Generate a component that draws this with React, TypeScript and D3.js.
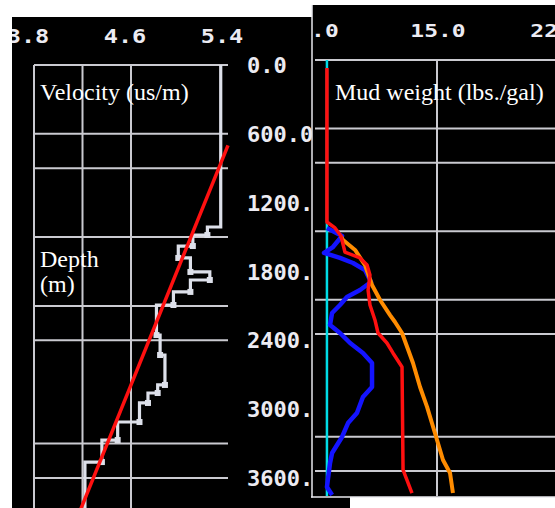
import React from 'react';
import * as d3 from 'd3';

// ---------- data ----------
const velTicks = [3.8, 4.6, 5.4];
const velGrid = [3.8, 4.2, 4.6];
const depthTicks = [0, 600, 1200, 1800, 2400, 3000, 3600];
const depthGrid = [0, 600, 900, 1500, 2100, 2400, 3300, 3600];

// velocity step log: top depth of each step and value
const velStepDepth = [0, 1412, 1482, 1578, 1682, 1804, 1874, 1978, 2092, 2354, 2528, 2789, 2859, 2946, 3112, 3269, 3461];
const velStepValue = [5.34, 5.23, 5.11, 4.99, 5.09, 5.25, 5.09, 4.95, 4.81, 4.84, 4.88, 4.82, 4.74, 4.67, 4.49, 4.36, 4.22];
const velLogBottom = 3900;

// red trend line (velocity)
const trendDepth = [700, 3870];
const trendVel = [5.4, 4.186];

// mud weight panel
const mwTicks = [8, 15, 22];
const mwGrid = [15];
const hydroDepth = [0, 3900];
const hydroMw = [8.58, 8.58];
const mudDepth = [70, 1419, 1471, 1542, 1682, 1734, 1796, 1883, 2015, 2146, 2277, 2391, 2479, 2566, 2689, 3591, 3679, 3793];
const mudMw = [8.58, 8.58, 9.05, 9.4, 9.63, 10.51, 10.92, 11.09, 10.98, 11.09, 11.38, 11.56, 12.08, 12.43, 12.96, 13.02, 13.25, 13.54];
const orangeDepth = [1545, 1577, 1664, 1796, 1971, 2102, 2234, 2295, 2391, 2654, 2864, 3039, 3267, 3504, 3617, 3793];
const orangeMw = [9.4, 9.52, 10.22, 10.8, 11.21, 11.68, 12.26, 12.55, 12.96, 13.6, 14.01, 14.42, 14.88, 15.35, 15.76, 15.93];
const blueDepth = [1471, 1542, 1638, 1690, 1734, 1778, 1840, 1945, 2015, 2076, 2146, 2216, 2321, 2391, 2479, 2566, 2654, 2864, 2952, 3092, 3180, 3302, 3442, 3530, 3740, 3810];
const blueMw = [8.58, 9.46, 8.93, 8.41, 9.34, 10.1, 10.8, 11.15, 10.51, 9.75, 9.34, 8.88, 8.76, 9.34, 9.93, 10.68, 11.21, 11.21, 10.68, 10.33, 9.81, 9.46, 8.88, 8.76, 8.58, 8.88];

// ---------- scales ----------
const xL = d3.scaleLinear().domain([3.8, 5.4]).range([34, 228]);
const yL = d3.scaleLinear().domain([0, 3600]).range([65, 478]);
const xR = d3.scaleLinear().domain([8, 15]).range([317, 437]);
const yR = d3.scaleLinear().domain([0, 3600]).range([60, 471]);

const GRID = '#cacad0';
const TXT = '#ecebf2';
const PIX = '"DejaVu Sans Mono", monospace';
const SERIF = '"Liberation Serif", "Times New Roman", serif';

export default function App() {
  const fmt = d3.format('.1f');

  const stepPts: [number, number][] = [];
  velStepValue.forEach((v, i) => {
    const d0 = velStepDepth[i];
    const d1 = i + 1 < velStepDepth.length ? velStepDepth[i + 1] : velLogBottom;
    stepPts.push([xL(v), yL(d0)]);
    stepPts.push([xL(v), yL(d1)]);
  });
  const line = d3.line<[number, number]>();
  const stepPath = line(stepPts) || '';
  const markers = velStepValue.slice(1).map((v, i) => {
    const idx = i + 1;
    const d1 = idx + 1 < velStepDepth.length ? velStepDepth[idx + 1] : velLogBottom;
    return [xL(v), yL(d1)];
  }).slice(0, -1);

  const trendPath = line(trendDepth.map((d, i) => [xL(trendVel[i]), yL(d)] as [number, number])) || '';
  const mk = (ds: number[], vs: number[]) => line(ds.map((d, i) => [xR(vs[i]), yR(d)] as [number, number])) || '';

  return (
    <svg width={555} height={508} style={{ position: 'absolute', left: 0, top: 0 }}>
      <defs>
        <clipPath id="clipL"><rect x={12} y={17} width={338} height={491} /></clipPath>
        <clipPath id="clipR"><rect x={313} y={5} width={242} height={491} /></clipPath>
      </defs>
      <rect x={0} y={0} width={555} height={508} fill="#fff" />
      {/* ---------- left panel ---------- */}
      <g clipPath="url(#clipL)">
        <rect x={12} y={17} width={338} height={491} fill="#000" />
        {velGrid.map((v) => (
          <line key={'vg' + v} x1={xL(v)} x2={xL(v)} y1={yL(0)} y2={508} stroke={GRID} strokeWidth={2} />
        ))}
        {depthGrid.map((d) => (
          <line key={'hg' + d} x1={xL(3.8)} x2={xL(5.4)} y1={yL(d)} y2={yL(d)} stroke={GRID} strokeWidth={2} />
        ))}
        {velTicks.map((v) => (
          <text key={'vt' + v} transform={`translate(${xL(v) - 6},43) scale(1.18,1)`} textAnchor="middle" fill={TXT} fontFamily={PIX} fontWeight="bold" fontSize={20}>{fmt(v)}</text>
        ))}
        {depthTicks.map((d) => (
          <text key={'dt' + d} x={247} y={yL(d) + 8} fill={TXT} fontFamily={PIX} fontWeight="bold" fontSize={22}>{fmt(d)}</text>
        ))}
        <path d={stepPath} fill="none" stroke="#dde0ea" strokeWidth={3.2} />
        {markers.map((m, i) => (
          <rect key={'m' + i} x={m[0] - 3} y={m[1] - 3} width={6} height={6} fill="#dde0ea" />
        ))}
        <path d={trendPath} fill="none" stroke="#ff1010" strokeWidth={3.5} />
        <text x={40} y={100} fill="#fff" fontFamily={SERIF} fontSize={24}>Velocity (us/m)</text>
        <text x={40} y={267} fill="#fff" fontFamily={SERIF} fontSize={24}>Depth</text>
        <text x={40} y={292} fill="#fff" fontFamily={SERIF} fontSize={24}>(m)</text>
      </g>
      {/* ---------- right panel ---------- */}
      <rect x={312} y={5} width={243} height={492} fill="#000" />
      <g clipPath="url(#clipR)">
        {mwGrid.map((v) => (
          <line key={'mg' + v} x1={xR(v)} x2={xR(v)} y1={yR(0)} y2={497} stroke={GRID} strokeWidth={2} />
        ))}
        {depthGrid.map((d) => (
          <line key={'rg' + d} x1={315} x2={555} y1={yR(d)} y2={yR(d)} stroke={GRID} strokeWidth={2} />
        ))}
        {mwTicks.map((v) => (
          <text key={'mt' + v} transform={`translate(${xR(v) + 1},37) scale(1.35,1)`} textAnchor="middle" fill={TXT} fontFamily={PIX} fontWeight="bold" fontSize={17}>{fmt(v)}</text>
        ))}
        <path d={mk(hydroDepth, hydroMw)} fill="none" stroke="#00dce6" strokeWidth={2.5} />
        <path d={mk(blueDepth, blueMw)} fill="none" stroke="#1414ff" strokeWidth={4.5} strokeLinejoin="round" />
        <path d={mk(orangeDepth, orangeMw)} fill="none" stroke="#ff8c00" strokeWidth={4} strokeLinejoin="round" />
        <path d={mk(mudDepth, mudMw)} fill="none" stroke="#ff1010" strokeWidth={3.5} strokeLinejoin="round" />
        <text x={335} y={100} fill="#fff" fontFamily={SERIF} fontSize={24}>Mud weight (lbs./gal)</text>
      </g>
      <line x1={312} x2={312} y1={5} y2={497.5} stroke="#e8e8ee" strokeWidth={1.5} />
      <line x1={311} x2={555} y1={497} y2={497} stroke="#e8e8ee" strokeWidth={1.5} />
    </svg>
  );
}
